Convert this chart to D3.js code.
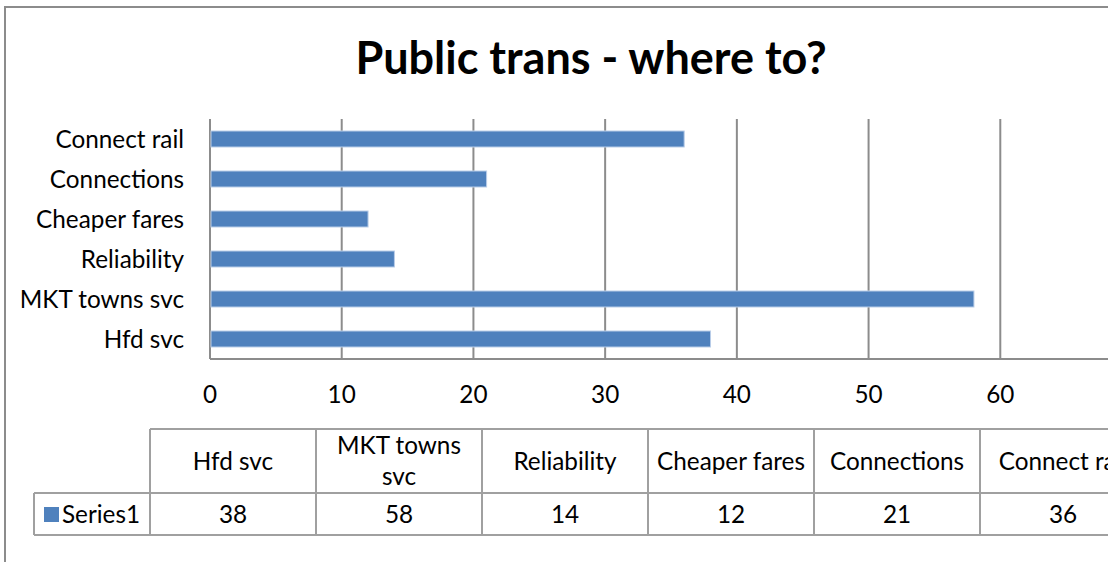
<!DOCTYPE html>
<html>
<head>
<meta charset="utf-8">
<script src="https://cdn.jsdelivr.net/npm/d3@7"></script>
<style>
  body { margin: 0; background: #fff; }
  text { font-family: Lato, "Open Sans", sans-serif; fill: #000; }
</style>
</head>
<body>
<div id="demo"></div>
<script>
let title = "Public trans - where to?";
let categories = ["Hfd svc", "MKT towns svc", "Reliability", "Cheaper fares", "Connections", "Connect rail"];
let values = [38, 58, 14, 12, 21, 36];
let xTicks = [0, 10, 20, 30, 40, 50, 60];
let seriesName = "Series1";

let w = 1119;
let h = 562;
let plot = {left: 210, right: 1132, top: 119, bottom: 359};
let blue = "#4f81bd";
let grey = "#8c8c8c";

let svg = d3.select("#demo")
    .append("svg")
    .attr("width", w)
    .attr("height", h);

// the picture is cut off at the right
svg.append("clipPath")
    .attr("id", "cut")
    .append("rect")
    .attr("x", 0)
    .attr("y", 0)
    .attr("width", 1108)
    .attr("height", h);

let g = svg.append("g").attr("clip-path", "url(#cut)");

// chart border
g.append("rect")
    .attr("x", 5)
    .attr("y", 7)
    .attr("width", 1300)
    .attr("height", 700)
    .attr("fill", "none")
    .attr("stroke", grey)
    .attr("stroke-width", 2);

g.append("text")
    .attr("x", 591)
    .attr("y", 74)
    .attr("text-anchor", "middle")
    .attr("font-size", "45px")
    .attr("font-weight", "bold")
    .text(title);

let x = d3.scaleLinear()
    .domain([0, 70])
    .range([plot.left, plot.right]);

let y = d3.scaleBand()
    .domain(categories)
    .range([plot.bottom, plot.top])
    .paddingInner(0.6)
    .paddingOuter(0.3);

// vertical gridlines
g.selectAll(".grid")
    .data(xTicks)
    .enter()
    .append("line")
    .attr("class", "grid")
    .attr("x1", (d) => x(d))
    .attr("x2", (d) => x(d))
    .attr("y1", plot.top)
    .attr("y2", plot.bottom)
    .attr("stroke", grey)
    .attr("stroke-width", 2);

// bottom axis line
g.append("line")
    .attr("x1", plot.left)
    .attr("x2", plot.right)
    .attr("y1", plot.bottom)
    .attr("y2", plot.bottom)
    .attr("stroke", grey)
    .attr("stroke-width", 2);

g.selectAll(".bar")
    .data(categories)
    .enter()
    .append("rect")
    .attr("class", "bar")
    .attr("x", x(0) + 1)
    .attr("y", (d) => y(d))
    .attr("width", (d, i) => x(values[i]) - x(0) - 1)
    .attr("height", y.bandwidth())
    .attr("fill", blue)
    .attr("stroke", "#b9cde8")
    .attr("stroke-width", 1);

let fs = "24.3px";

g.selectAll(".ylab")
    .data(categories)
    .enter()
    .append("text")
    .attr("class", "ylab")
    .attr("x", 184)
    .attr("y", (d) => y(d) + y.bandwidth() / 2)
    .attr("dy", "0.35em")
    .attr("text-anchor", "end")
    .attr("font-size", fs)
    .text((d) => d);

g.selectAll(".xlab")
    .data(xTicks)
    .enter()
    .append("text")
    .attr("class", "xlab")
    .attr("x", (d) => x(d))
    .attr("y", 394)
    .attr("dy", "0.35em")
    .attr("text-anchor", "middle")
    .attr("font-size", fs)
    .text((d) => d);

// data table
let tbl = {top: 429, mid: 493, bottom: 535, keyLeft: 34};
let col = d3.scaleBand()
    .domain(categories)
    .range([150, 1146]);

let lineStyle = (sel) => sel.attr("stroke", "#a0a0a0").attr("stroke-width", 2).attr("fill", "none");

g.append("line").call(lineStyle)
    .attr("x1", col.range()[0]).attr("x2", col.range()[1])
    .attr("y1", tbl.top).attr("y2", tbl.top);
g.append("line").call(lineStyle)
    .attr("x1", tbl.keyLeft).attr("x2", col.range()[1])
    .attr("y1", tbl.mid).attr("y2", tbl.mid);
g.append("line").call(lineStyle)
    .attr("x1", tbl.keyLeft).attr("x2", col.range()[1])
    .attr("y1", tbl.bottom).attr("y2", tbl.bottom);
g.append("line").call(lineStyle)
    .attr("x1", tbl.keyLeft).attr("x2", tbl.keyLeft)
    .attr("y1", tbl.mid).attr("y2", tbl.bottom);

g.selectAll(".colline")
    .data(categories.concat(["end"]))
    .enter()
    .append("line")
    .attr("class", "colline")
    .call(lineStyle)
    .attr("x1", (d, i) => col.range()[0] + i * col.step())
    .attr("x2", (d, i) => col.range()[0] + i * col.step())
    .attr("y1", tbl.top)
    .attr("y2", tbl.bottom);

// header cells, wrapped when too wide
let heads = g.selectAll(".head")
    .data(categories)
    .enter()
    .append("text")
    .attr("class", "head")
    .attr("text-anchor", "middle")
    .attr("font-size", fs);

heads.each(function(d) {
    let t = d3.select(this);
    let cx = col(d) + col.bandwidth() / 2;
    let cy = (tbl.top + tbl.mid) / 2;
    t.text(d);
    if (this.getComputedTextLength() > col.bandwidth() - 10) {
        let words = d.split(" ");
        let lines = [words.slice(0, -1).join(" "), words[words.length - 1]];
        t.text(null);
        lines.forEach((ln, i) => {
            t.append("tspan")
                .attr("x", cx)
                .attr("y", cy + (i - 0.5) * 31)
                .attr("dy", "0.35em")
                .text(ln);
        });
    } else {
        t.attr("x", cx).attr("y", cy).attr("dy", "0.35em");
    }
});

g.selectAll(".val")
    .data(values)
    .enter()
    .append("text")
    .attr("class", "val")
    .attr("x", (d, i) => col(categories[i]) + col.bandwidth() / 2)
    .attr("y", (tbl.mid + tbl.bottom) / 2)
    .attr("dy", "0.35em")
    .attr("text-anchor", "middle")
    .attr("font-size", fs)
    .text((d) => d);

// legend key
g.append("rect")
    .attr("x", 44)
    .attr("y", 507)
    .attr("width", 15)
    .attr("height", 15)
    .attr("fill", blue);

g.append("text")
    .attr("x", 62)
    .attr("y", (tbl.mid + tbl.bottom) / 2)
    .attr("dy", "0.35em")
    .attr("font-size", fs)
    .text(seriesName);
</script>
</body>
</html>
